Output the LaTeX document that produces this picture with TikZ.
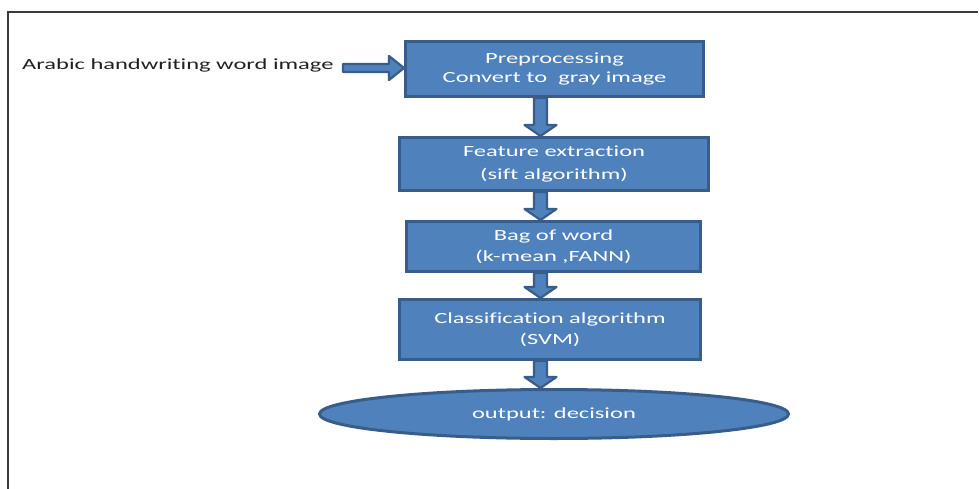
\documentclass[tikz,border=0pt]{standalone}
\usepackage{fontspec}
\setmainfont{Carlito}[FakeStretch=1.58, Ligatures=NoCommon]
\usetikzlibrary{calc,shapes.geometric}

\definecolor{boxfill}{HTML}{4F81BD}
\definecolor{boxline}{HTML}{385D8A}
\definecolor{framecol}{HTML}{3A3A3A}
\definecolor{labelcol}{HTML}{202020}

\tikzset{
  stepbox/.style={rectangle, fill=boxfill, draw=boxline, line width=3pt,
    text=white, align=center, inner sep=0pt,
    font=\fontsize{15.5}{21}\selectfont},
  endoval/.style={ellipse, fill=boxfill, draw=boxline, line width=3pt,
    text=white, inner sep=0pt, font=\fontsize{15.5}{21}\selectfont},
  blockarrow/.style={fill=boxfill, draw=boxline, line width=2.2pt, line join=round},
  framerule/.style={draw=framecol, line width=1.8pt},
}

% block arrow pointing down, from one anchor to another
\newcommand\downblock[2]{%
  \draw[blockarrow] let \p1=(#1), \p2=(#2) in
    (\x1-6.5pt,\y1) -- (\x1-6.5pt,\y2+11pt) -- (\x1-16pt,\y2+11pt) --
    (\x1,\y2) -- (\x1+16pt,\y2+11pt) -- (\x1+6.5pt,\y2+11pt) --
    (\x1+6.5pt,\y1) -- cycle;}

% block arrow pointing right, from one anchor to another
\newcommand\rightblock[2]{%
  \draw[blockarrow] let \p1=(#1), \p2=(#2) in
    (\x1,\y1+4pt) -- (\x2-15pt,\y1+4pt) -- (\x2-15pt,\y1+12pt) --
    (\x2,\y1) -- (\x2-15pt,\y1-12pt) -- (\x2-15pt,\y1-4pt) --
    (\x1,\y1-4pt) -- cycle;}

\begin{document}
\begin{tikzpicture}[x=1pt,y=-1pt]
  \useasboundingbox (0,0) rectangle (979,489);

  % open frame: top and left rules
  \draw[framerule] (7,12) -- (978,12);
  \draw[framerule] (8,12) -- (8,489);

  % processing steps
  \node[stepbox, minimum width=298pt, minimum height=55pt] (pre) at (554.5,69)
    {Preprocessing\\[-2pt]Convert to\ \ gray image};
  \node[stepbox, minimum width=309pt, minimum height=53pt] (feat) at (554,164)
    {Feature extraction\\[3pt](sift algorithm)};
  \node[stepbox, minimum width=294pt, minimum height=50pt] (bag) at (553.5,246.5)
    {Bag of word\\(k-mean ,FANN)};
  \node[stepbox, minimum width=301pt, minimum height=60pt] (cls) at (550,329.5)
    {Classification algorithm\\(SVM)};
  \node[endoval, minimum width=469pt, minimum height=49pt] (out) at (554,414)
    {output: decision};

  % input label
  \node[anchor=base west, inner sep=0pt, text=labelcol,
    font=\fontsize{15.5}{18}\selectfont] (input) at (22,70)
    {Arabic handwriting word image};
  \coordinate (instart) at (343,68);

  % column of the vertical arrows
  \coordinate (ax) at (540.5,0);

  \rightblock{instart}{pre.west}
  \downblock{pre.south -| ax}{feat.north -| ax}
  \downblock{feat.south -| ax}{bag.north -| ax}
  \downblock{bag.south -| ax}{cls.north -| ax}
  \downblock{cls.south -| ax}{out.north -| ax}
\end{tikzpicture}
\end{document}
